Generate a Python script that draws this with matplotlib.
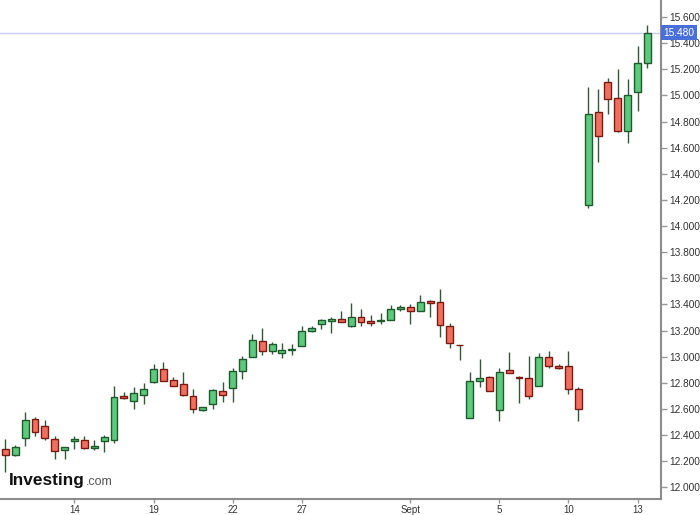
import matplotlib
matplotlib.use('Agg')
import matplotlib.pyplot as plt
import matplotlib.transforms as mtransforms
import numpy as np

plt.rcParams['font.family'] = ['Liberation Sans', 'DejaVu Sans']

# OHLC, one row per candle
opens = [12.290, 12.246, 12.375, 12.525, 12.467, 12.367, 12.282, 12.351, 12.362, 12.297,
         12.356, 12.362, 12.695, 12.660, 12.705, 12.803, 12.908, 12.821, 12.787, 12.698,
         12.595, 12.638, 12.736, 12.759, 12.890, 12.998, 13.123, 13.044, 13.026, 13.051,
         13.082, 13.198, 13.251, 13.275, 13.290, 13.233, 13.305, 13.275, 13.270, 13.277,
         13.367, 13.382, 13.349, 13.423, 13.421, 13.238, 13.090, 12.528, 12.813, 12.846,
         12.595, 12.897, 12.841, 12.833, 12.774, 12.995, 12.928, 12.928, 12.751, 14.159,
         14.874, 15.100, 14.977, 14.726, 15.028, 15.252]
highs = [12.370, 12.325, 12.575, 12.538, 12.513, 12.390, 12.310, 12.392, 12.395, 12.364,
         12.402, 12.772, 12.728, 12.767, 12.798, 12.946, 12.959, 12.841, 12.879, 12.751,
         12.618, 12.751, 12.808, 12.913, 13.008, 13.177, 13.223, 13.113, 13.108, 13.098,
         13.236, 13.236, 13.285, 13.300, 13.352, 13.408, 13.362, 13.318, 13.338, 13.398,
         13.398, 13.400, 13.475, 13.433, 13.518, 13.259, 13.090, 12.882, 12.985, 12.851,
         12.913, 13.036, 12.854, 13.008, 13.028, 13.044, 12.944, 13.041, 12.764, 15.064,
         15.052, 15.136, 15.200, 15.123, 15.379, 15.536]
lows = [12.118, 12.240, 12.318, 12.395, 12.360, 12.213, 12.213, 12.290, 12.292, 12.282,
        12.272, 12.341, 12.677, 12.600, 12.638, 12.798, 12.810, 12.772, 12.700, 12.572,
        12.582, 12.600, 12.656, 12.656, 12.831, 12.998, 13.010, 13.018, 12.990, 13.010,
        13.082, 13.187, 13.208, 13.180, 13.264, 13.228, 13.236, 13.233, 13.248, 13.277,
        13.349, 13.248, 13.349, 13.305, 13.152, 13.067, 12.972, 12.528, 12.764, 12.736,
        12.510, 12.877, 12.644, 12.674, 12.774, 12.913, 12.902, 12.715, 12.510, 14.138,
        14.487, 14.856, 14.721, 14.633, 14.882, 15.210]
closes = [12.246, 12.305, 12.515, 12.420, 12.375, 12.277, 12.305, 12.367, 12.297, 12.313,
          12.382, 12.690, 12.682, 12.720, 12.754, 12.908, 12.815, 12.777, 12.705, 12.597,
          12.618, 12.744, 12.710, 12.892, 12.985, 13.131, 13.044, 13.098, 13.051, 13.062,
          13.200, 13.221, 13.277, 13.290, 13.264, 13.305, 13.264, 13.260, 13.280, 13.367,
          13.382, 13.349, 13.421, 13.413, 13.242, 13.103, 13.088, 12.815, 12.838, 12.736,
          12.885, 12.877, 12.833, 12.702, 12.995, 12.928, 12.910, 12.749, 12.600, 14.859,
          14.690, 14.972, 14.726, 15.005, 15.252, 15.480]

tick_idx = [7, 15, 23, 30, 41, 50, 57, 64]
tick_labels = ['14', '19', '22', '27', 'Sept', '5', '10', '13']
last_price = 15.480

up_fill, up_edge = '#5cc97c', '#1f5a2c'
dn_fill, dn_edge = '#f0705f', '#7a1a12'
wick_col = '#34573c'

fig = plt.figure(figsize=(7, 5.15), dpi=100)
ax = fig.add_axes([0, 16 / 515, 661 / 700, 499 / 515])

o = np.array(opens)
h = np.array(highs)
l = np.array(lows)
c = np.array(closes)
x = np.arange(len(o))
up = c >= o

ax.vlines(x, l, h, color=wick_col, linewidth=1, zorder=2)
ax.bar(x[up], c[up] - o[up], bottom=o[up], width=0.7,
       color=up_fill, edgecolor=up_edge, linewidth=1, zorder=3)
ax.bar(x[~up], c[~up] - o[~up], bottom=o[~up], width=0.7,
       color=dn_fill, edgecolor=dn_edge, linewidth=1, zorder=3)

ax.axhline(last_price, color='#c9cbf3', linewidth=1, zorder=1)
trans = mtransforms.blended_transform_factory(ax.transAxes, ax.transData)
ax.text(1.004, last_price, '{:.3f}'.format(last_price), transform=trans,
        ha='left', va='center', fontsize=7.3, color='white', clip_on=False,
        bbox=dict(boxstyle='square,pad=0.25', facecolor='#4a6fd9', edgecolor='none'))

ax.set_xlim(-0.54, 66.37)
ax.set_ylim(11.91, 15.731)

ax.yaxis.tick_right()
ax.set_yticks(np.arange(12.0, 15.61, 0.2))
ax.set_yticklabels(['{:.3f}'.format(v) for v in np.arange(12.0, 15.61, 0.2)])
ax.set_xticks(tick_idx)
ax.set_xticklabels(tick_labels)
ax.tick_params(axis='y', labelsize=7.3, labelcolor='#333333', color='#999999',
               length=4, width=1, pad=2)
ax.tick_params(axis='x', labelsize=7, labelcolor='#333333', color='#999999',
               length=3, width=1, pad=1)

for s in ['left', 'top']:
    ax.spines[s].set_visible(False)
for s in ['right', 'bottom']:
    ax.spines[s].set_color('#8c8c8c')
    ax.spines[s].set_linewidth(1.5)

# watermark
fig.text(9 / 700, 30 / 515, 'Investing', fontsize=12.4, fontweight='bold',
         color='#111111', va='baseline', ha='left')
fig.text(86 / 700, 30 / 515, '.com', fontsize=9, color='#555555',
         va='baseline', ha='left')

fig.savefig('out.png', dpi=100)
